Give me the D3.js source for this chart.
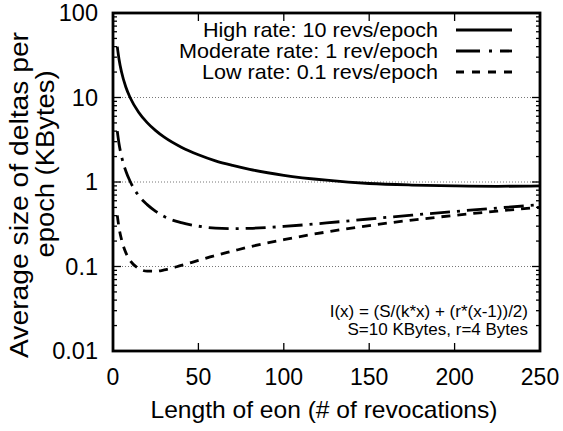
<!DOCTYPE html>
<html>
<head>
<meta charset="utf-8">
<script src="https://cdn.jsdelivr.net/npm/d3@7"></script>
<style>
  body { margin: 0; background: #fff; }
  text { font-family: "Liberation Sans", Arial, sans-serif; fill: #000; }
</style>
</head>
<body>
<div id="chart"></div>
<script>
// eon length (# of revocations)
const eonLengths = [2.5, 3.5, 5, 7.5, 10, 15, 20, 25, 30, 40, 50, 60, 70, 80, 100, 125, 150, 175, 200, 225, 250];
// average delta size per epoch, KBytes
const highRate = [40.0, 28.6, 20.0, 13.3, 10.0, 6.7, 5.04, 4.05, 3.39, 2.58, 2.10, 1.78, 1.57, 1.41, 1.20, 1.05, 0.96, 0.92, 0.90, 0.89, 0.90];
const moderateRate = [4.0, 2.86, 2.01, 1.35, 1.02, 0.69, 0.54, 0.45, 0.39, 0.33, 0.30, 0.285, 0.281, 0.283, 0.298, 0.328, 0.365, 0.405, 0.448, 0.492, 0.538];
const lowRate = [0.403, 0.29, 0.208, 0.146, 0.118, 0.095, 0.088, 0.088, 0.091, 0.103, 0.118, 0.135, 0.152, 0.171, 0.208, 0.256, 0.305, 0.354, 0.403, 0.452, 0.502];

const seriesNames = ["High rate: 10 revs/epoch", "Moderate rate: 1 rev/epoch", "Low rate: 0.1 revs/epoch"];
const xTicks = [0, 50, 100, 150, 200, 250];
const yTicks = [0.01, 0.1, 1, 10, 100];
const yTickLabels = ["0.01", "0.1", "1", "10", "100"];
const gridValues = [0.1, 1, 10];

const width = 563, height = 431;
const margin = { top: 13, right: 23, bottom: 80, left: 113 };
const innerW = width - margin.left - margin.right;
const innerH = height - margin.top - margin.bottom;

const svg = d3.select("#chart").append("svg")
    .attr("width", width)
    .attr("height", height);

const g = svg.append("g")
    .attr("transform", `translate(${margin.left},${margin.top})`);

const x = d3.scaleLinear().domain([0, 250]).range([0, innerW]);
const y = d3.scaleLog().domain([0.01, 100]).range([innerH, 0]);

// dotted grid
g.selectAll(".grid")
    .data(gridValues)
    .enter().append("line")
    .attr("class", "grid")
    .attr("x1", 0).attr("x2", innerW)
    .attr("y1", d => y(d)).attr("y2", d => y(d))
    .attr("stroke", "#777")
    .attr("stroke-width", 1)
    .attr("stroke-dasharray", "1,2");

// ticks, drawn inward on all sides
const minor = [];
for (let e = -2; e < 2; e++) {
    for (let m = 2; m <= 9; m++) minor.push(m * Math.pow(10, e));
}
const tickG = g.append("g").attr("stroke", "#000").attr("stroke-width", 1.3);
minor.forEach(v => {
    tickG.append("line").attr("x1", 0).attr("x2", 4).attr("y1", y(v)).attr("y2", y(v));
    tickG.append("line").attr("x1", innerW).attr("x2", innerW - 4).attr("y1", y(v)).attr("y2", y(v));
});
yTicks.forEach(v => {
    tickG.append("line").attr("x1", 0).attr("x2", 8).attr("y1", y(v)).attr("y2", y(v));
    tickG.append("line").attr("x1", innerW).attr("x2", innerW - 8).attr("y1", y(v)).attr("y2", y(v));
});
xTicks.forEach(v => {
    tickG.append("line").attr("x1", x(v)).attr("x2", x(v)).attr("y1", innerH).attr("y2", innerH - 8);
    tickG.append("line").attr("x1", x(v)).attr("x2", x(v)).attr("y1", 0).attr("y2", 8);
});

// tick labels
g.selectAll(".ylab")
    .data(yTicks)
    .enter().append("text")
    .attr("x", -15)
    .attr("y", d => y(d))
    .attr("dy", "0.36em")
    .attr("text-anchor", "end")
    .attr("font-size", "23.5px")
    .text((d, i) => yTickLabels[i]);

g.selectAll(".xlab")
    .data(xTicks)
    .enter().append("text")
    .attr("x", d => x(d))
    .attr("y", innerH + 34)
    .attr("text-anchor", "middle")
    .attr("font-size", "23px")
    .text(d => d);

// axis titles
svg.append("text")
    .attr("x", 324)
    .attr("y", 418)
    .attr("text-anchor", "middle")
    .attr("font-size", "24px")
    .attr("textLength", 347)
    .attr("lengthAdjust", "spacingAndGlyphs")
    .text("Length of eon (# of revocations)");

svg.append("text")
    .attr("transform", "translate(28,195) rotate(-90)")
    .attr("text-anchor", "middle")
    .attr("font-size", "25px")
    .attr("textLength", 326)
    .attr("lengthAdjust", "spacingAndGlyphs")
    .text("Average size of deltas per");

svg.append("text")
    .attr("transform", "translate(54,164) rotate(-90)")
    .attr("text-anchor", "middle")
    .attr("font-size", "25px")
    .attr("textLength", 187)
    .attr("lengthAdjust", "spacingAndGlyphs")
    .text("epoch (KBytes)");

// curves
const series = [
    { name: seriesNames[0], values: highRate, dash: null, textW: 235 },
    { name: seriesNames[1], values: moderateRate, dash: "20,7,3,7", textW: 259 },
    { name: seriesNames[2], values: lowRate, dash: "9,7", textW: 236 }
];

const line = d3.line()
    .x(d => x(d[0]))
    .y(d => y(d[1]))
    .curve(d3.curveMonotoneX);

series.forEach(s => {
    g.append("path")
        .datum(eonLengths.map((v, i) => [v, s.values[i]]))
        .attr("d", line)
        .attr("fill", "none")
        .attr("stroke", "#000")
        .attr("stroke-width", 2.8)
        .attr("stroke-dasharray", s.dash);
});

// legend
const legend = g.append("g");
series.forEach((s, i) => {
    const ly = 17 + i * 21;
    legend.append("text")
        .attr("x", 325)
        .attr("y", ly + 7)
        .attr("text-anchor", "end")
        .attr("font-size", "21px")
        .attr("textLength", s.textW)
        .attr("lengthAdjust", "spacingAndGlyphs")
        .text(s.name);
    legend.append("line")
        .attr("x1", 343).attr("x2", 399)
        .attr("y1", ly).attr("y2", ly)
        .attr("stroke", "#000")
        .attr("stroke-width", 2.8)
        .attr("stroke-dasharray", s.dash === "9,7" ? "8,8" : (s.dash ? "24,9,3,8" : null));
});

// formula note
const note = g.append("text")
    .attr("text-anchor", "end")
    .attr("font-size", "17px");
note.append("tspan").attr("x", innerW - 12).attr("y", 304).text("I(x) = (S/(k*x) + (r*(x-1))/2)");
note.append("tspan").attr("x", innerW - 12).attr("y", 322).text("S=10 KBytes, r=4 Bytes");

// frame
g.append("rect")
    .attr("width", innerW)
    .attr("height", innerH)
    .attr("fill", "none")
    .attr("stroke", "#000")
    .attr("stroke-width", 2.8);
</script>
</body>
</html>
